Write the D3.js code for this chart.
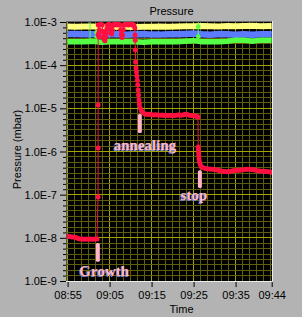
<!DOCTYPE html>
<html lang="en">
<head>
<meta charset="utf-8">
<title>Pressure</title>
<script src="https://d3js.org/d3.v7.min.js"></script>
<style>
  body { margin: 0; background: #b3b3b3; }
  svg { display: block; font-family: "Liberation Sans", Arial, sans-serif; }
  .ann { font-family: "Liberation Serif", "Times New Roman", serif; font-weight: bold; font-size: 15px; }
</style>
</head>
<body>
<script>
var width = 302, height = 317;

// minutes after 08:55, pressure in mbar
var redPts = [
  [0,1.07e-8],[0.5,1.07e-8],[1,1.05e-8],[1.5,1.05e-8],[2,1.02e-8],[2.5,9.7e-9],[3,9.4e-9],[3.5,9.4e-9],
  [4,9.3e-9],[4.5,9.4e-9],[5,9.3e-9],[5.5,9.4e-9],[6,9.3e-9],[6.5,9.4e-9],[7.0,9.4e-9],
  [7.25,8.8e-8],[7.26,1.2e-6],[7.27,1.19e-5],[7.28,5.0e-4],[7.3,8.5e-4],
  [7.4,5.5e-4],[7.5,4.5e-4],[7.6,6.5e-4],[7.75,8.6e-4],[8.0,8.8e-4],[8.25,8.5e-4],
  [8.4,6.0e-4],[8.55,4.6e-4],[8.7,4.0e-4],[8.9,3.7e-4],[9.05,4.5e-4],[9.2,5.5e-4],[9.35,7.0e-4],
  [9.5,8.5e-4],[9.75,8.7e-4],[10.0,8.8e-4],[10.15,6.8e-4],[10.3,5.6e-4],[10.5,5.3e-4],[10.65,6.4e-4],
  [10.8,8.3e-4],[11.0,8.7e-4],[11.25,8.6e-4],[11.5,8.8e-4],[11.75,8.5e-4],[12.0,8.7e-4],[12.25,8.6e-4],
  [12.5,8.5e-4],[12.65,6.6e-4],[12.8,5.2e-4],[12.95,4.4e-4],[13.1,5.0e-4],[13.25,6.6e-4],[13.4,8.4e-4],
  [13.65,8.7e-4],[13.9,8.6e-4],[14.15,8.8e-4],[14.4,8.5e-4],[14.65,8.6e-4],[14.9,8.7e-4],[15.15,8.6e-4],
  [15.4,8.5e-4],[15.6,8.7e-4],[15.8,8.4e-4],
  [16.0,7.3e-4],[16.05,5.0e-4],[16.1,3.8e-4],[16.15,2.25e-4],[16.2,1.18e-4],[16.3,8.6e-5],[16.4,6.95e-5],
  [16.5,5.6e-5],[16.6,4.5e-5],[16.7,3.5e-5],[16.8,2.66e-5],[16.9,2.04e-5],[17.0,1.56e-5],[17.1,1.26e-5],
  [17.3,1.02e-5],[17.6,8.7e-6],[18.0,7.8e-6],
  [18.5,7.4e-6],[19,7.2e-6],[19.5,7.3e-6],[20,7.1e-6],[20.5,7.0e-6],[21,7.1e-6],[21.5,7.0e-6],[22,6.9e-6],
  [22.5,7.0e-6],[23,6.8e-6],[23.5,6.9e-6],[24,6.8e-6],[24.5,6.9e-6],[25,6.7e-6],[25.5,6.8e-6],[26,6.9e-6],
  [26.5,7.1e-6],[27,6.9e-6],[27.5,7.0e-6],[28,7.3e-6],[28.5,7.2e-6],[29,6.9e-6],[29.5,6.8e-6],[30,6.7e-6],
  [30.5,6.6e-6],[30.9,6.4e-6],[31.05,6.3e-6],
  [31.1,1.27e-6],[31.15,1.08e-6],[31.2,9.2e-7],[31.25,7.9e-7],[31.3,6.7e-7],[31.4,5.7e-7],[31.6,4.9e-7],
  [31.9,4.4e-7],[32.3,4.2e-7],[32.8,4.05e-7],[33.3,4.0e-7],[33.8,3.95e-7],[34.3,3.9e-7],[34.8,3.9e-7],
  [35.3,3.8e-7],[35.8,3.7e-7],[36.3,3.6e-7],[36.8,3.5e-7],[37.3,3.45e-7],[37.8,3.4e-7],[38.3,3.45e-7],
  [38.8,3.5e-7],[39.3,3.6e-7],[39.8,3.65e-7],[40.3,3.7e-7],[40.8,3.7e-7],[41.3,3.75e-7],[41.8,3.8e-7],
  [42.3,3.85e-7],[42.8,3.9e-7],[43.3,3.9e-7],[43.8,3.85e-7],[44.3,3.8e-7],[44.8,3.7e-7],[45.3,3.6e-7],
  [45.8,3.55e-7],[46.3,3.5e-7],[46.8,3.5e-7],[47.3,3.45e-7],[47.8,3.4e-7],[48.3,3.35e-7],[48.6,3.3e-7]
];

var bandTime  = [0,2,4,6,8,10,12,14,16,18,20,22,24,26,28,30,32,34,36,38,40,42,44,46,48.6];
var yellowVal = [7.9e-4,7.8e-4,7.9e-4,7.9e-4,7.8e-4,7.7e-4,7.8e-4,7.8e-4,7.7e-4,7.8e-4,7.8e-4,7.9e-4,7.8e-4,
                 7.9e-4,8.0e-4,8.0e-4,8.1e-4,8.0e-4,7.9e-4,8.1e-4,8.0e-4,8.1e-4,8.2e-4,8.0e-4,8.1e-4];
var blueVal   = [5.3e-4,5.3e-4,5.2e-4,5.2e-4,5.1e-4,5.2e-4,5.2e-4,5.1e-4,5.2e-4,5.3e-4,5.1e-4,5.1e-4,5.2e-4,
                 5.2e-4,5.3e-4,5.4e-4,5.2e-4,5.1e-4,5.3e-4,5.2e-4,5.1e-4,5.2e-4,5.1e-4,5.2e-4,5.2e-4];
var greenVal  = [3.5e-4,3.5e-4,3.5e-4,3.6e-4,3.4e-4,3.5e-4,3.5e-4,3.5e-4,3.5e-4,3.4e-4,3.5e-4,3.5e-4,3.5e-4,
                 3.5e-4,3.6e-4,3.7e-4,3.5e-4,3.5e-4,3.5e-4,3.6e-4,3.8e-4,3.8e-4,3.6e-4,3.8e-4,3.8e-4];

var greenSpikeTime = [5.35, 31.1];
var greenSpikeTop  = [1.2e-3, 1.2e-3];
var greenMarks = [[6.9,5.8e-4],[6.9,4.6e-4],[31.1,7.8e-4],[31.1,4.6e-4]];

var xTickMin    = [0, 10, 20, 30, 40, 48.6];
var xTickLabels = ["08:55", "09:05", "09:15", "09:25", "09:35", "09:44"];
var yTickVals   = [1e-3, 1e-4, 1e-5, 1e-6, 1e-7, 1e-8, 1e-9];
var yTickLabels = ["1.0E-3", "1.0E-4", "1.0E-5", "1.0E-6", "1.0E-7", "1.0E-8", "1.0E-9"];

// annotation markers: [minute, from value, to value], labels: [text, minute, value]
var arrows = [[7.2, 7.6e-9, 2.8e-9], [17.2, 7.4e-6, 2.7e-6], [31.5, 3.7e-7, 1.43e-7]];
var notes  = [["Growth", 2.8, 1.3e-9], ["annealing", 11.0, 1.08e-6], ["stop", 26.9, 7.5e-8]];

var start = new Date(2000, 0, 1, 8, 55, 0);
function tm(m) { return new Date(start.getTime() + m * 60000); }

var pL = 67, pR = 272, pT = 22, pB = 281;

var x = d3.scaleTime().domain([tm(0), tm(48.6)]).range([67.6, 271.7]);
var y = d3.scaleLog().domain([1e-9, 1e-3]).range([pB, pT]);

var svg = d3.select("body").append("svg")
    .attr("width", width).attr("height", height);

svg.append("rect").attr("width", width).attr("height", height).attr("fill", "#b3b3b3");

svg.append("defs").append("clipPath").attr("id", "plot")
  .append("rect").attr("x", pL).attr("y", pT).attr("width", pR - pL).attr("height", pB - pT);

svg.append("rect").attr("x", pL).attr("y", pT)
    .attr("width", pR - pL).attr("height", pB - pT).attr("fill", "#000");

var g = svg.append("g").attr("clip-path", "url(#plot)");

// grid
var minorX = d3.range(0, 49, 10 / 6);
g.selectAll(".gx").data(minorX).enter().append("line")
  .attr("x1", function(d) { return x(tm(d)); }).attr("x2", function(d) { return x(tm(d)); })
  .attr("y1", pT).attr("y2", pB)
  .attr("stroke", function(d, i) { return i % 6 == 0 ? "#a4a400" : "#5e5e0c"; })
  .attr("stroke-width", 1).attr("shape-rendering", "crispEdges");

var minorY = [];
for (var k = -9; k < -3; k++) {
  for (var j = 0; j < 8; j++) minorY.push({v: Math.pow(10, k + j / 8), major: j == 0});
}
g.selectAll(".gy").data(minorY).enter().append("line")
  .attr("x1", pL).attr("x2", pR)
  .attr("y1", function(d) { return y(d.v); }).attr("y2", function(d) { return y(d.v); })
  .attr("stroke", function(d) { return d.major ? "#a4a400" : "#5e5e0c"; })
  .attr("stroke-width", 1).attr("shape-rendering", "crispEdges");

// bands
var bandLine = d3.line()
  .x(function(d, i) { return x(tm(bandTime[i])); })
  .y(function(d) { return y(d); });

[[yellowVal, "#ffff80", 6], [blueVal, "#5b7cff", 6.5], [greenVal, "#55ff44", 5.5]].forEach(function(b) {
  g.append("path").attr("d", bandLine(b[0]))
    .attr("fill", "none").attr("stroke", b[1]).attr("stroke-width", b[2]);
});

g.selectAll(".gs").data(greenSpikeTime).enter().append("line")
  .attr("x1", function(d) { return x(tm(d)); }).attr("x2", function(d) { return x(tm(d)); })
  .attr("y1", function(d, i) { return y(greenSpikeTop[i]); }).attr("y2", y(3.5e-4))
  .attr("stroke", "#55ff44").attr("stroke-width", 1);

g.selectAll(".gm").data(greenMarks).enter().append("circle")
  .attr("cx", function(d) { return x(tm(d[0])); }).attr("cy", function(d) { return y(d[1]); })
  .attr("r", 2.3).attr("fill", "#55ff44");

// red pressure trace
var redLine = d3.line()
  .x(function(d) { return x(tm(d[0])); })
  .y(function(d) { return y(d[1]); });

g.append("path").attr("d", redLine(redPts))
  .attr("fill", "none").attr("stroke", "#ff1040").attr("stroke-width", 1);

g.selectAll(".rm").data(redPts).enter().append("circle")
  .attr("cx", function(d) { return x(tm(d[0])); }).attr("cy", function(d) { return y(d[1]); })
  .attr("r", 2.5).attr("fill", "#ff1040");

// annotations
g.selectAll(".arr").data(arrows).enter().append("rect")
  .attr("x", function(d) { return x(tm(d[0])) - 2; })
  .attr("y", function(d) { return y(d[1]); })
  .attr("width", 4)
  .attr("height", function(d) { return y(d[2]) - y(d[1]); })
  .attr("rx", 1.5).attr("fill", "#ffb4c8");

var nt = g.selectAll(".note").data(notes).enter();
nt.append("text").attr("class", "ann")
  .attr("x", function(d) { return x(tm(d[1])) - 0.8; })
  .attr("y", function(d) { return y(d[2]) + 0.5; })
  .attr("fill", "#7a82c8").text(function(d) { return d[0]; });
nt.append("text").attr("class", "ann")
  .attr("x", function(d) { return x(tm(d[1])); })
  .attr("y", function(d) { return y(d[2]); })
  .attr("fill", "#ffb8c8").text(function(d) { return d[0]; });

// frame
svg.append("line").attr("x1", pL - 0.5).attr("x2", pL - 0.5).attr("y1", pT - 1).attr("y2", pB + 1)
  .attr("stroke", "#505050");
svg.append("line").attr("x1", pL - 1).attr("x2", pR + 1).attr("y1", pT - 0.5).attr("y2", pT - 0.5)
  .attr("stroke", "#6a6a6a");
svg.append("line").attr("x1", pR + 0.5).attr("x2", pR + 0.5).attr("y1", pT - 1).attr("y2", pB + 1)
  .attr("stroke", "#ececec");
svg.append("line").attr("x1", pL - 1).attr("x2", pR + 1).attr("y1", pB + 0.5).attr("y2", pB + 0.5)
  .attr("stroke", "#ececec");

// axes
var yAxis = d3.axisLeft(y).tickValues(yTickVals)
  .tickFormat(function(d, i) { return yTickLabels[i]; })
  .tickSize(6).tickPadding(3);
var ya = svg.append("g").attr("transform", "translate(" + (pL - 1) + ",0)").call(yAxis);
ya.select(".domain").remove();
ya.selectAll("line").attr("stroke", "#000");
ya.selectAll("text").attr("font-size", 11).attr("fill", "#000")
  .attr("font-family", "Liberation Sans, Arial, sans-serif");

var yMinor = d3.axisLeft(y).tickValues(minorY.filter(function(d) { return !d.major; }).map(function(d) { return d.v; }))
  .tickSize(3).tickFormat("");
var ym = svg.append("g").attr("transform", "translate(" + (pL - 1) + ",0)").call(yMinor);
ym.select(".domain").remove();
ym.selectAll("line").attr("stroke", "#000");

var xAxis = d3.axisBottom(x).tickValues(xTickMin.map(tm))
  .tickFormat(function(d, i) { return xTickLabels[i]; })
  .tickSize(5).tickPadding(4);
var xa = svg.append("g").attr("transform", "translate(0," + (pB + 1) + ")").call(xAxis);
xa.select(".domain").remove();
xa.selectAll("line").attr("stroke", "#000");
xa.selectAll("text").attr("font-size", 11).attr("fill", "#000")
  .attr("font-family", "Liberation Sans, Arial, sans-serif");

// titles
svg.append("text").attr("x", 171.5).attr("y", 14.5).attr("text-anchor", "middle")
  .attr("font-size", 11).text("Pressure");
svg.append("text").attr("x", 181.5).attr("y", 312.5).attr("text-anchor", "middle")
  .attr("font-size", 11).text("Time");
svg.append("text").attr("transform", "translate(20.5,149.5) rotate(-90)")
  .attr("text-anchor", "middle").attr("font-size", 11).text("Pressure (mbar)");
</script>
</body>
</html>
